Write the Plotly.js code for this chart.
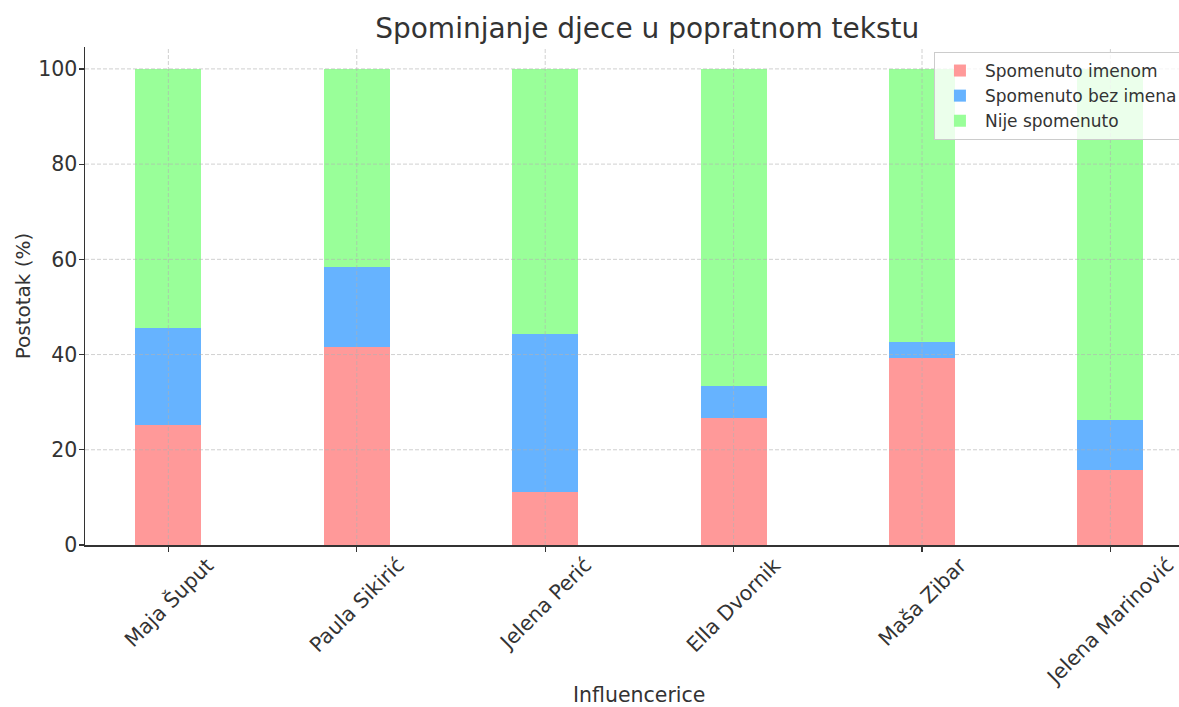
<!DOCTYPE html>
<html>
<head>
<meta charset="utf-8">
<script src="https://cdn.plot.ly/plotly-3.0.1.min.js"></script>
<style>html,body{margin:0;padding:0;background:#fff;overflow:hidden;}#chart{width:1179px;height:707px;}</style>
</head>
<body>
<div id="chart"></div>
<script>
const categories = ["Maja Šuput", "Paula Sikirić", "Jelena Perić", "Ella Dvornik", "Maša Zibar", "Jelena Marinović"];
const spomenutoImenom = [25.2, 41.6, 11.2, 26.7, 39.2, 15.8];
const spomenutoBezImena = [20.4, 16.7, 33.2, 6.7, 3.5, 10.5];
const nijeSpomenuto = [54.4, 41.7, 55.6, 66.6, 57.3, 73.7];
const seriesNames = ["Spomenuto imenom", "Spomenuto bez imena", "Nije spomenuto"];
const colors = ["#ff9999", "#66b3ff", "#99ff99"];
const yTicks = [0, 20, 40, 60, 80, 100];

const xIdx = categories.map((c, i) => i);
const font = "DejaVu Sans, sans-serif";
const traces = [spomenutoImenom, spomenutoBezImena, nijeSpomenuto].map((vals, k) => ({
  type: "bar",
  x: xIdx,
  y: vals,
  name: seriesNames[k],
  width: 0.35,
  marker: {color: colors[k], line: {width: 0}},
  hoverinfo: "y"
}));

const gridStyle = {color: "rgba(176,176,176,0.6)", width: 1, dash: "4px,2px"};
const shapes = [];
yTicks.slice(1).forEach(v => shapes.push({type: "line", xref: "paper", yref: "y", x0: 0, x1: 1, y0: v, y1: v, line: gridStyle, layer: "above"}));
xIdx.forEach(v => shapes.push({type: "line", xref: "x", yref: "paper", x0: v, x1: v, y0: 0, y1: 1, line: gridStyle, layer: "above"}));

// category labels centred under their ticks, rotated 45°
const annotations = categories.map((c, i) => ({
  text: c, x: i, xref: "x", y: 0, yref: "paper",
  xanchor: "center", yanchor: "top", yshift: -5,
  textangle: -45, showarrow: false,
  font: {size: 20.5, color: "#333333", family: font}
}));
annotations.push({
  text: "Influencerice", x: 0.506, xref: "paper", y: -0.301, yref: "paper",
  xanchor: "center", yanchor: "middle", showarrow: false,
  font: {size: 20.5, color: "#333333", family: font}
});

const layout = {
  width: 1179, height: 707,
  barmode: "stack",
  paper_bgcolor: "#fff", plot_bgcolor: "#fff",
  margin: {l: 85, r: 0, t: 47, b: 162, autoexpand: false},
  font: {family: font, color: "#333333"},
  title: {text: "Spominjanje djece u popratnom tekstu", font: {size: 28, color: "#333333", family: font}, x: 0.549, xanchor: "center", y: 0.960, yanchor: "middle"},
  xaxis: {
    range: [-0.4425, 5.364],
    tickmode: "array", tickvals: xIdx,
    showticklabels: false,
    showgrid: false,
    showline: true, linecolor: "#333333", linewidth: 1.5,
    ticks: "outside", ticklen: 5, tickcolor: "#333333", tickwidth: 1.2,
    zeroline: false, automargin: false
  },
  yaxis: {
    range: [0, 104.6],
    tickvals: yTicks,
    tickfont: {size: 20.5, color: "#333333"},
    ticklabelstandoff: -3,
    showgrid: false,
    showline: true, linecolor: "#333333", linewidth: 1.5,
    ticks: "outside", ticklen: 5, tickcolor: "#333333", tickwidth: 1.2,
    zeroline: false, automargin: false,
    title: {text: "Postotak (%)", font: {size: 20, color: "#333333"}, standoff: 2}
  },
  shapes: shapes,
  annotations: annotations,
  legend: {
    x: 0.776, xanchor: "left", y: 0.99, yanchor: "top",
    bgcolor: "rgba(255,255,255,0.8)", bordercolor: "#cccccc", borderwidth: 1,
    font: {size: 17, color: "#333333"},
    traceorder: "normal",
    tracegroupgap: 0,
    itemwidth: 40
  },
  showlegend: true
};

Plotly.newPlot("chart", traces, layout, {displayModeBar: false, staticPlot: true});
</script>
</body>
</html>
